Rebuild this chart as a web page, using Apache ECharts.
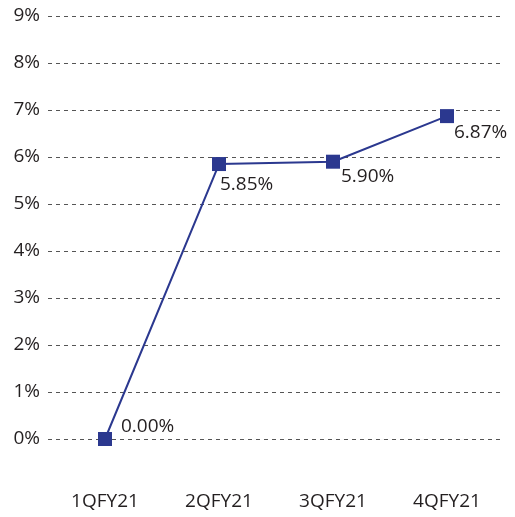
<!DOCTYPE html>
<html>
<head>
<meta charset="utf-8">
<script src="https://cdn.jsdelivr.net/npm/echarts@6/dist/echarts.min.js"></script>
<style>
  html, body { margin: 0; padding: 0; background: #fff; }
  #main { width: 515px; height: 517px; }
</style>
</head>
<body>
<div id="main"></div>
<script>
// 季度数据
const quarters = ['1QFY21', '2QFY21', '3QFY21', '4QFY21'];
const rates = [0.00, 5.85, 5.90, 6.87];
// 标签相对方块左上角的位置
const labelPos = [[23, -5], [8, 28], [15, 22], [14, 23]];

const chart = echarts.init(document.getElementById('main'));

const lineColor = '#2b388f';
const textColor = '#231f20';
const fontFamily = '"Open Sans", "Noto Sans", sans-serif';

const option = {
    backgroundColor: '#fff',
    animation: false,
    grid: {
        left: 48,
        right: 11,
        top: 16,
        bottom: 78
    },
    xAxis: {
        type: 'category',
        data: quarters,
        boundaryGap: true,
        axisLine: { show: false },
        axisTick: { show: false },
        axisLabel: {
            color: textColor,
            fontSize: 19,
            fontFamily: fontFamily,
            margin: 53
        }
    },
    yAxis: {
        type: 'value',
        min: 0,
        max: 9,
        interval: 1,
        axisLine: { show: false },
        axisTick: { show: false },
        axisLabel: {
            color: textColor,
            fontSize: 19,
            fontFamily: fontFamily,
            margin: 8,
            formatter: '{value}%'
        },
        splitLine: {
            lineStyle: {
                color: '#555',
                type: [4, 4],
                width: 1
            }
        }
    },
    series: [{
        type: 'line',
        data: rates.map((v, i) => ({
            value: v,
            label: { position: labelPos[i] }
        })),
        symbol: 'rect',
        symbolSize: 14,
        lineStyle: { color: lineColor, width: 2 },
        itemStyle: { color: lineColor },
        label: {
            show: true,
            color: textColor,
            fontSize: 19,
            fontFamily: fontFamily,
            align: 'left',
            verticalAlign: 'middle',
            formatter: p => p.value.toFixed(2) + '%'
        }
    }]
};

chart.setOption(option);
</script>
</body>
</html>
